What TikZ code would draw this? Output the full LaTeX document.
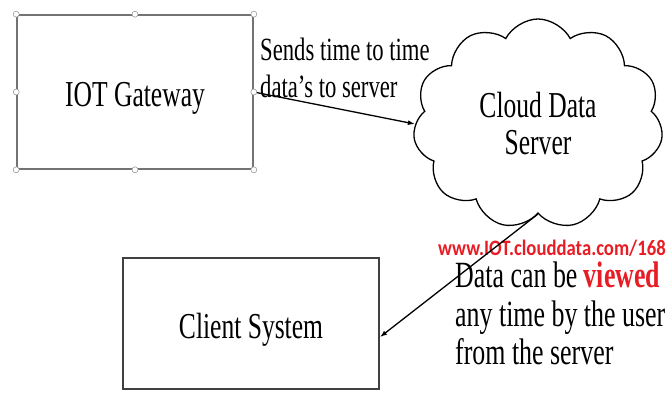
\documentclass[tikz,border=0pt]{standalone}
\usepackage{fontspec}
\setmainfont{Liberation Serif}
\newfontfamily\urlfont{Carlito}
\usetikzlibrary{arrows.meta,positioning,shapes.symbols}
\definecolor{urlred}{RGB}{232,28,36}
\newcommand{\thintext}[1]{\scalebox{0.7}[1]{#1}}

\begin{document}
\begin{tikzpicture}[x=1pt, y=-1pt,
    box/.style={draw, line width=1.6pt, inner sep=0pt, align=center, text height=30pt, text depth=0pt, font=\fontsize{36.5}{37}\selectfont},
    cloudbox/.style={draw, cloud, cloud puffs=11, cloud puff arc=125, cloud ignores aspect, line width=1.3pt, align=center, inner sep=0pt, font=\fontsize{36.5}{37}\selectfont},
    handle/.style={draw=black!40, fill=white, circle, minimum size=6pt, inner sep=0pt, line width=0.6pt},
    note/.style={inner sep=0pt, align=left, font=\fontsize{32.4}{37}\selectfont},
    arrow/.style={-{Latex[length=7pt, width=5pt]}, line width=1.3pt}
  ]
    \useasboundingbox (0,0) rectangle (668,398);
    \node[box, draw=black!55, minimum width=236pt, minimum height=154pt] (gateway) at (135,92) {\thintext{IOT Gateway}};
    \node[box, draw=black!75, line width=2pt, minimum width=256pt, minimum height=131pt] (client) at (251,323.5) {\thintext{Client System}};
    \node[cloudbox, minimum width=250pt, minimum height=210pt] (cloud) at (538,124) {\thintext{Cloud Data}\\\thintext{Server}};

    \node[note, anchor=north west] (sendtxt) at (260,38) {\thintext{Sends time to time}\\\thintext{data's to server}};
    \node[inner sep=0pt, anchor=base west, text=urlred, font=\urlfont\bfseries\fontsize{22}{24}\selectfont] (url) at (438,255) {\scalebox{0.85}[1]{www.IOT.clouddata.com/168}};
    \node[note, anchor=north west, font=\fontsize{37}{38.5}\selectfont] (viewtxt) at (455,262) {\thintext{Data can be \textcolor{urlred}{\bfseries viewed}}\\\thintext{any time by the user}\\\thintext{from the server}};

    \draw[arrow] (gateway.east) -- (cloud.west);
    \draw[arrow] (cloud.south) -- (client.-6);

    \foreach \a in {north west,north,north east,east,south east,south,south west,west}
      \node[handle] (gw-\a) at (gateway.\a) {};
  \end{tikzpicture}
\end{document}
